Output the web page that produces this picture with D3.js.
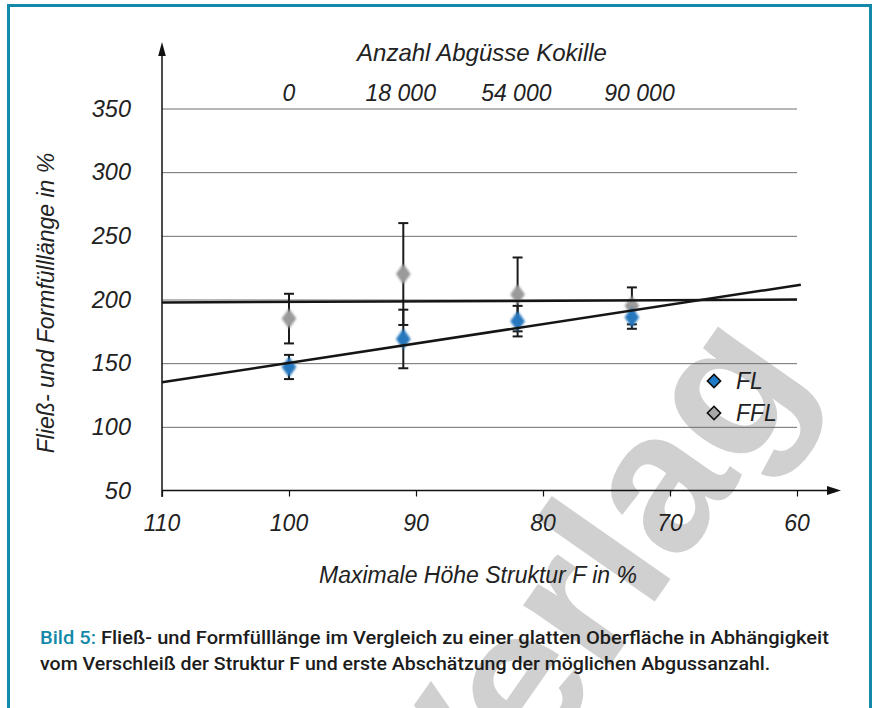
<!DOCTYPE html>
<html><head><meta charset="utf-8">
<script src="https://cdn.jsdelivr.net/npm/d3@7"></script>
<style>html,body{margin:0;padding:0;background:#fff;overflow:hidden} svg{display:block}</style>
</head><body>
<script>
// ---- data ----
const xValues = [100, 91, 82, 73];
const castingLabels = ["0", "18 000", "54 000", "90 000"];
const castingPos = [100, 91.2, 82.1, 72.4];
const flValues = [147, 169, 183, 186];
const flErrors = [9.5, 23, 12, 9];
const fflValues = [185, 220, 204, 195];
const fflErrors = [19.5, 40, 29, 14.5];
const flTrend = [[110, 135], [59.7, 211.6]];
const fflTrend = [[110, 197.6], [60, 200]];
const xTicks = [110, 100, 90, 80, 70, 60];
const yTicks = [50, 100, 150, 200, 250, 300, 350];
const seriesNames = ["FL", "FFL"];
const topTitle = "Anzahl Abgüsse Kokille";
const xTitle = "Maximale Höhe Struktur F in %";
const yTitle = "Fließ- und Formfülllänge in %";
const captionLabel = "Bild 5:";
const captionLine1 = " Fließ- und Formfülllänge im Vergleich zu einer glatten Oberfläche in Abhängigkeit";
const captionLine2 = "vom Verschleiß der Struktur F und erste Abschätzung der möglichen Abgussanzahl.";
const watermark = "Verlag";

const W = 874, H = 708;
const teal = "#1289a8";
const font = "'Liberation Sans', Arial, sans-serif";

const svg = d3.select("body").append("svg").attr("width", W).attr("height", H);

// watermark (behind everything)
svg.append("text").text(watermark)
  .attr("transform", "translate(468,868) rotate(-55)")
  .attr("font-family", font).attr("font-weight", "bold").attr("font-size", 200)
  .attr("fill", "#d0d0d0");

// frame
svg.append("rect").attr("x", 8.5).attr("y", 5.5).attr("width", 862).attr("height", 720)
  .attr("fill", "none").attr("stroke", teal).attr("stroke-width", 3);

const x = d3.scaleLinear().domain([110, 60]).range([162, 797]);
const y = d3.scaleLinear().domain([50, 350]).range([490.5, 108.5]);

const defs = svg.append("defs");
defs.append("filter").attr("id", "soft").attr("x", "-50%").attr("y", "-50%").attr("width", "200%").attr("height", "200%")
  .append("feGaussianBlur").attr("stdDeviation", 0.9);

// gridlines
const grid = d3.axisLeft(y).tickValues(yTicks.slice(1)).tickSize(-(x(60) - x(110))).tickFormat("");
svg.append("g").attr("transform", `translate(${x(110)},0)`).call(grid)
  .call(g => g.select(".domain").remove())
  .call(g => g.selectAll("line").attr("stroke", "#6e6e6e").attr("stroke-width", 1));

// y tick labels
svg.append("g").selectAll("text").data(yTicks).join("text")
  .attr("x", 131).attr("y", d => y(d) + 8)
  .attr("text-anchor", "end").attr("font-family", font).attr("font-style", "italic")
  .attr("font-size", 23.5).attr("fill", "#222").text(d => d);

// x axis
const xAxis = d3.axisBottom(x).tickValues(xTicks).tickSize(6).tickFormat("");
svg.append("g").attr("transform", `translate(0,${y(50)})`).call(xAxis)
  .call(g => g.select(".domain").remove())
  .call(g => g.selectAll("line").attr("stroke", "#111").attr("stroke-width", 1.2));
svg.append("g").selectAll("text").data(xTicks).join("text")
  .attr("x", d => x(d)).attr("y", 531)
  .attr("text-anchor", "middle").attr("font-family", font).attr("font-style", "italic")
  .attr("font-size", 23).attr("fill", "#222").text(d => d);

// axis lines with arrows
svg.append("line").attr("x1", x(110)).attr("x2", 830).attr("y1", y(50)).attr("y2", y(50))
  .attr("stroke", "#111").attr("stroke-width", 1.5);
svg.append("path").attr("d", `M841,${y(50)} L827,${y(50) - 4.5} L827,${y(50) + 4.5} Z`).attr("fill", "#111");
svg.append("line").attr("x1", x(110)).attr("x2", x(110)).attr("y1", y(50) + 6.5).attr("y2", 52)
  .attr("stroke", "#111").attr("stroke-width", 1.5);
svg.append("path").attr("d", `M${x(110)},42 L${x(110) - 3.8},56 L${x(110) + 3.8},56 Z`).attr("fill", "#111");

// titles
svg.append("text").attr("x", 482).attr("y", 61).attr("text-anchor", "middle")
  .attr("font-family", font).attr("font-style", "italic").attr("font-size", 24).attr("fill", "#222").text(topTitle);
svg.append("g").selectAll("text").data(castingLabels).join("text")
  .attr("x", (d, i) => x(castingPos[i])).attr("y", 101).attr("text-anchor", "middle")
  .attr("font-family", font).attr("font-style", "italic").attr("font-size", 23).attr("fill", "#222").text(d => d);
svg.append("text").attr("x", 478).attr("y", 583).attr("text-anchor", "middle")
  .attr("font-family", font).attr("font-style", "italic").attr("font-size", 23).attr("fill", "#222").text(xTitle);
svg.append("text").attr("transform", "translate(54,303) rotate(-90)").attr("text-anchor", "middle")
  .attr("font-family", font).attr("font-style", "italic").attr("font-size", 23).attr("fill", "#222").text(yTitle);

// error bars
function errorBars(vals, errs) {
  const g = svg.append("g").attr("stroke", "#1a1a1a").attr("stroke-width", 2).attr("fill", "none");
  vals.forEach((v, i) => {
    const cx = x(xValues[i]);
    g.append("line").attr("x1", cx).attr("x2", cx).attr("y1", y(v - errs[i])).attr("y2", y(v + errs[i]));
    [v - errs[i], v + errs[i]].forEach(e => {
      g.append("line").attr("x1", cx - 5).attr("x2", cx + 5).attr("y1", y(e)).attr("y2", y(e));
    });
  });
}
errorBars(fflValues, fflErrors);
errorBars(flValues, flErrors);

// markers
const diamond = d3.symbol().type(d3.symbolDiamond).size(120);
function markers(vals, color) {
  svg.append("g").attr("filter", "url(#soft)").selectAll("path").data(vals).join("path")
    .attr("d", diamond)
    .attr("transform", (d, i) => `translate(${x(xValues[i])},${y(d)}) scale(1.25,1)`)
    .attr("fill", color);
}
markers(fflValues, "#9a9a9a");
markers(flValues, "#2577bd");

// trend lines
const line = d3.line().x(d => x(d[0])).y(d => y(d[1]));
[flTrend, fflTrend].forEach(t => {
  svg.append("path").attr("d", line(t)).attr("stroke", "#151515").attr("stroke-width", 2.5).attr("fill", "none");
});

// legend
const legColors = ["#1f7ac8", "#a8a8a8"];
const leg = svg.append("g");
seriesNames.forEach((n, i) => {
  const ly = 381 + i * 32;
  leg.append("path").attr("d", d3.symbol().type(d3.symbolSquare).size(88))
    .attr("transform", `translate(714,${ly}) rotate(45)`)
    .attr("fill", legColors[i]).attr("stroke", "#111").attr("stroke-width", 1.6);
  leg.append("text").attr("x", 736).attr("y", ly + 8).attr("font-family", font).attr("font-style", "italic")
    .attr("font-size", 23).attr("fill", "#222").text(n);
});

// caption
const capFont = "Roboto, 'Liberation Sans', sans-serif";
function capLine(yb, parts, targetW) {
  const t = svg.append("text").attr("font-family", capFont).attr("font-size", 19)
    .attr("font-weight", 500).attr("fill", "#1c1c1c");
  parts.forEach(p => t.append("tspan").attr("fill", p[1]).text(p[0]));
  const w = t.node().getComputedTextLength();
  t.attr("transform", `translate(40,${yb}) scale(${targetW / w},1)`);
}
capLine(644, [[captionLabel, teal], [captionLine1, "#1c1c1c"]], 789);
capLine(670, [[captionLine2, "#1c1c1c"]], 731);
</script>
</body></html>
